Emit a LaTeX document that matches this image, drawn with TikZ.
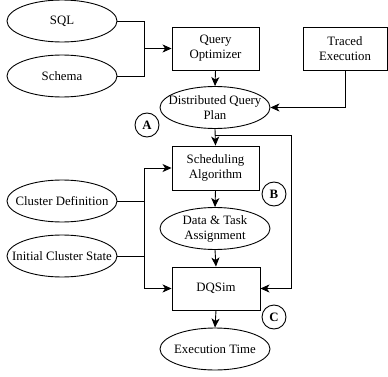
\documentclass[tikz,border=0pt]{standalone}
\usepackage{fontspec}
\setmainfont{Liberation Serif}
\usepackage{tikz}
\usetikzlibrary{shapes,arrows.meta,positioning,calc}
\tikzstyle{block} = [rectangle, draw, minimum width=87pt, minimum height=43pt, inner sep=0pt, align=center]
\tikzstyle{oval} = [ellipse, draw, minimum width=110pt, minimum height=42pt, inner sep=0pt, label={[align=center]center:#1}]
\tikzstyle{stage} = [circle, draw, minimum size=24pt, inner sep=0pt, font=\fontsize{12.8}{15}\selectfont\bfseries]
\tikzstyle{arrow} = [->,>={Stealth[length=9pt,width=8pt,inset=2.5pt]}]

\begin{document}
\begin{tikzpicture}[x=1pt,y=-1pt,line width=0.9pt,font=\fontsize{12.8}{15}\selectfont]
	\useasboundingbox (0,0) rectangle (388,377);
	% inputs on the left
	\node[oval={SQL}] (sql) at (62,21) {};
	\node[oval={Schema}] (schema) at (62,76) {};
	\node[oval={Cluster Definition}] (cluster) at (62,201) {};
	\node[oval={Initial Cluster State}] (state) at (62,256) {};
	% main column
	\node[block] (optimizer) at (215.5,48.5) {Query\\Optimizer};
	\node[block, minimum width=84pt] (traced) at (345,48.5) {Traced\\Execution};
	\node[oval={Distributed Query\\Plan}] (plan) at (215,107.5) {};
	\node[block, minimum height=44pt] (sched) at (215.5,168) {Scheduling\\Algorithm};
	\node[oval={Data \& Task\\Assignment}] (assign) at (215,228.5) {};
	\node[block, minimum width=88pt] (dqsim) at (216,288.5) {DQSim};
	\node[oval={Execution Time}] (time) at (215,349) {};
	% stage markers
	\node[stage] (stage-a) at (147,125) {A};
	\node[stage] (stage-b) at (274,194) {B};
	\node[stage] (stage-c) at (274,317) {C};
	% helper coordinates
	\coordinate (join) at (144,48.5);
	\coordinate (split) at (215,135);
	\coordinate (rail-r) at (291,288.5);
	\coordinate (rail-t) at (144,168);
	\coordinate (rail-b) at (144,288.5);
	% connectors
	\draw (sql.east) -| (join);
	\draw (schema.east) -| (join);
	\draw[arrow] (join) -- (optimizer.west);
	\draw[arrow] (optimizer.south) -- (plan.north);
	\draw[arrow] (traced.south) |- (plan.east);
	\draw[arrow] (plan.south) -- (sched.north);
	\draw[arrow] (split) -| (rail-r) -- (dqsim.east);
	\draw[arrow] (sched.south) -- (assign.north);
	\draw[arrow] (assign.south) -- (dqsim.north);
	\draw (cluster.east) -- (cluster.east -| rail-t);
	\draw (state.east) -- (state.east -| rail-t);
	\draw (rail-t) -- (rail-b);
	\draw[arrow] (rail-t) -- (sched.west);
	\draw[arrow] (rail-b) -- (dqsim.west);
	\draw[arrow] (dqsim.south) -- (time.north);
\end{tikzpicture}
\end{document}
